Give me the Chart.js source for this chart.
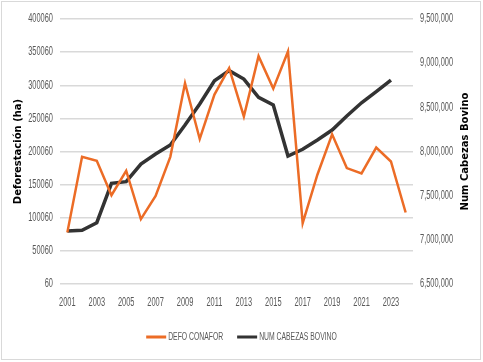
<!DOCTYPE html>
<html>
<head>
<meta charset="utf-8">
<script src="https://cdn.jsdelivr.net/npm/chart.js@4/dist/chart.umd.min.js"></script>
<style>
    body { margin: 0; background: #fff; }
    #frame { position: absolute; left: 1px; top: 1px; width: 478px; height: 357px; border: 1px solid #d9d9d9; }
    #myChart { position: absolute; left: 0; top: 0; }
</style>
</head>
<body>
<div id="frame"></div>
<canvas id="myChart" width="483" height="362"></canvas>
<script>
const years = ['2001', '2002', '2003', '2004', '2005', '2006', '2007', '2008', '2009', '2010', '2011', '2012',
    '2013', '2014', '2015', '2016', '2017', '2018', '2019', '2020', '2021', '2022', '2023', '2024'];
const defoConafor = [78000, 192000, 186000, 134000, 171000, 98000, 133000, 192000, 303000, 219000, 286000, 326000,
    253000, 344000, 295000, 351000, 92000, 165000, 226000, 175000, 167000, 206000, 185000, 108000];
const cabezasBovino = [7100000, 7108000, 7194000, 7640000, 7658000, 7858000, 7971000, 8073000, 8300000, 8538000, 8801000, 8915000,
    8820000, 8613000, 8526000, 7949000, 8025000, 8130000, 8243000, 8402000, 8552000, 8677000, 8809000, null];
const defoTicks = [60, 50060, 100060, 150060, 200060, 250060, 300060, 350060, 400060];
const bovinoMin = 6500000;
const bovinoMax = 9500000;
const bovinoStep = 500000;

const narrowFont = '12px "Liberation Sans", Arial, sans-serif';
const legendFont = '11px "Liberation Sans", Arial, sans-serif';
const squeeze = 0.62;   // the original text is a narrow face
const textGray = '#595959';
const hidden = 'rgba(0,0,0,0)';

function squeezedText( ctx, text, x, y, align ) {
    ctx.save();
    ctx.translate( x, y );
    ctx.scale( squeeze, 1 );
    ctx.textAlign = align;
    ctx.fillText( text, 0, 0 );
    ctx.restore();
}

// tick labels, legend and axis titles drawn by hand
const narrowText = {
    id: 'narrowText',
    afterDraw( chart ) {
        const ctx = chart.ctx;
        const area = chart.chartArea;
        const sx = chart.scales.x, sy = chart.scales.y, sy1 = chart.scales.y1;

        ctx.save();
        ctx.font = narrowFont;
        ctx.fillStyle = textGray;
        ctx.textBaseline = 'middle';
        sy.ticks.forEach( t => squeezedText( ctx, String( t.value ), area.left - 7, sy.getPixelForValue( t.value ), 'right' ) );
        sy1.ticks.forEach( t => squeezedText( ctx, t.value.toLocaleString( 'en-US' ), area.right + 7, sy1.getPixelForValue( t.value ), 'left' ) );
        sx.ticks.forEach( ( t, i ) => {
            if ( i % 2 === 0 ) {
                squeezedText( ctx, years[i], sx.getPixelForTick( i ), area.bottom + 19, 'center' );
            }
        } );

        // legend
        ctx.font = legendFont;
        const sample = 20, gap = 2, spacing = 14;
        const items = chart.data.datasets.map( ds => ( {
            text: ds.label,
            color: ds.borderColor,
            w: sample + gap + ctx.measureText( ds.label ).width * squeeze
        } ) );
        const total = items.reduce( ( s, it ) => s + it.w, 0 ) + spacing * ( items.length - 1 );
        let x = chart.width / 2 - total / 2;
        const ly = 337;
        for ( let it of items ) {
            ctx.fillStyle = it.color;
            ctx.fillRect( x, ly - 1.5, sample, 3 );
            ctx.fillStyle = textGray;
            squeezedText( ctx, it.text, x + sample + gap, ly, 'left' );
            x += it.w + spacing;
        }

        // axis titles, both reading bottom to top
        const mid = ( area.top + area.bottom ) / 2;
        ctx.font = 'bold 10px "DejaVu Sans", Verdana, sans-serif';
        ctx.fillStyle = '#000';
        ctx.textAlign = 'center';
        for ( let [tx, label] of [[18, 'Deforestación (ha)'], [465, 'Num Cabezas Bovino']] ) {
            ctx.save();
            ctx.translate( tx, mid );
            ctx.rotate( -Math.PI / 2 );
            ctx.fillText( label, 0, 0 );
            ctx.restore();
        }
        ctx.restore();
    }
};

const myChartRef = document.getElementById( 'myChart' ).getContext( '2d' );

new Chart( myChartRef, {
    type: 'line',
    data: {
        labels: years,
        datasets: [
            {
                label: 'DEFO CONAFOR',
                data: defoConafor,
                borderColor: '#ec6c26',
                backgroundColor: '#ec6c26',
                borderWidth: 2.5,
                pointRadius: 0,
                yAxisID: 'y',
            },
            {
                label: 'NUM CABEZAS BOVINO',
                data: cabezasBovino,
                borderColor: '#333333',
                backgroundColor: '#333333',
                borderWidth: 3.5,
                pointRadius: 0,
                yAxisID: 'y1',
            }
        ]
    },
    options: {
        responsive: false,
        animation: false,
        layout: { padding: { left: 0, right: 0, top: 19, bottom: 46 } },
        plugins: {
            tooltip: { enabled: false },
            legend: { display: false }
        },
        scales: {
            x: {
                offset: true,
                grid: { display: false },
                border: { display: false },
                ticks: { color: hidden, autoSkip: false, maxRotation: 0 },
                afterFit( scale ) { scale.height = 32; }
            },
            y: {
                position: 'left',
                min: 60,
                max: 400060,
                afterBuildTicks( scale ) {
                    scale.ticks = defoTicks.map( v => ( { value: v } ) );
                },
                grid: { color: '#d9d9d9', lineWidth: 1.5, drawTicks: false },
                border: { display: false },
                ticks: { color: hidden },
                afterFit( scale ) { scale.width = 60; }
            },
            y1: {
                position: 'right',
                min: bovinoMin,
                max: bovinoMax,
                grid: { display: false, drawTicks: false },
                border: { display: false },
                ticks: { color: hidden, stepSize: bovinoStep },
                afterFit( scale ) { scale.width = 70; }
            }
        }
    },
    plugins: [narrowText]
} );
</script>
</body>
</html>
